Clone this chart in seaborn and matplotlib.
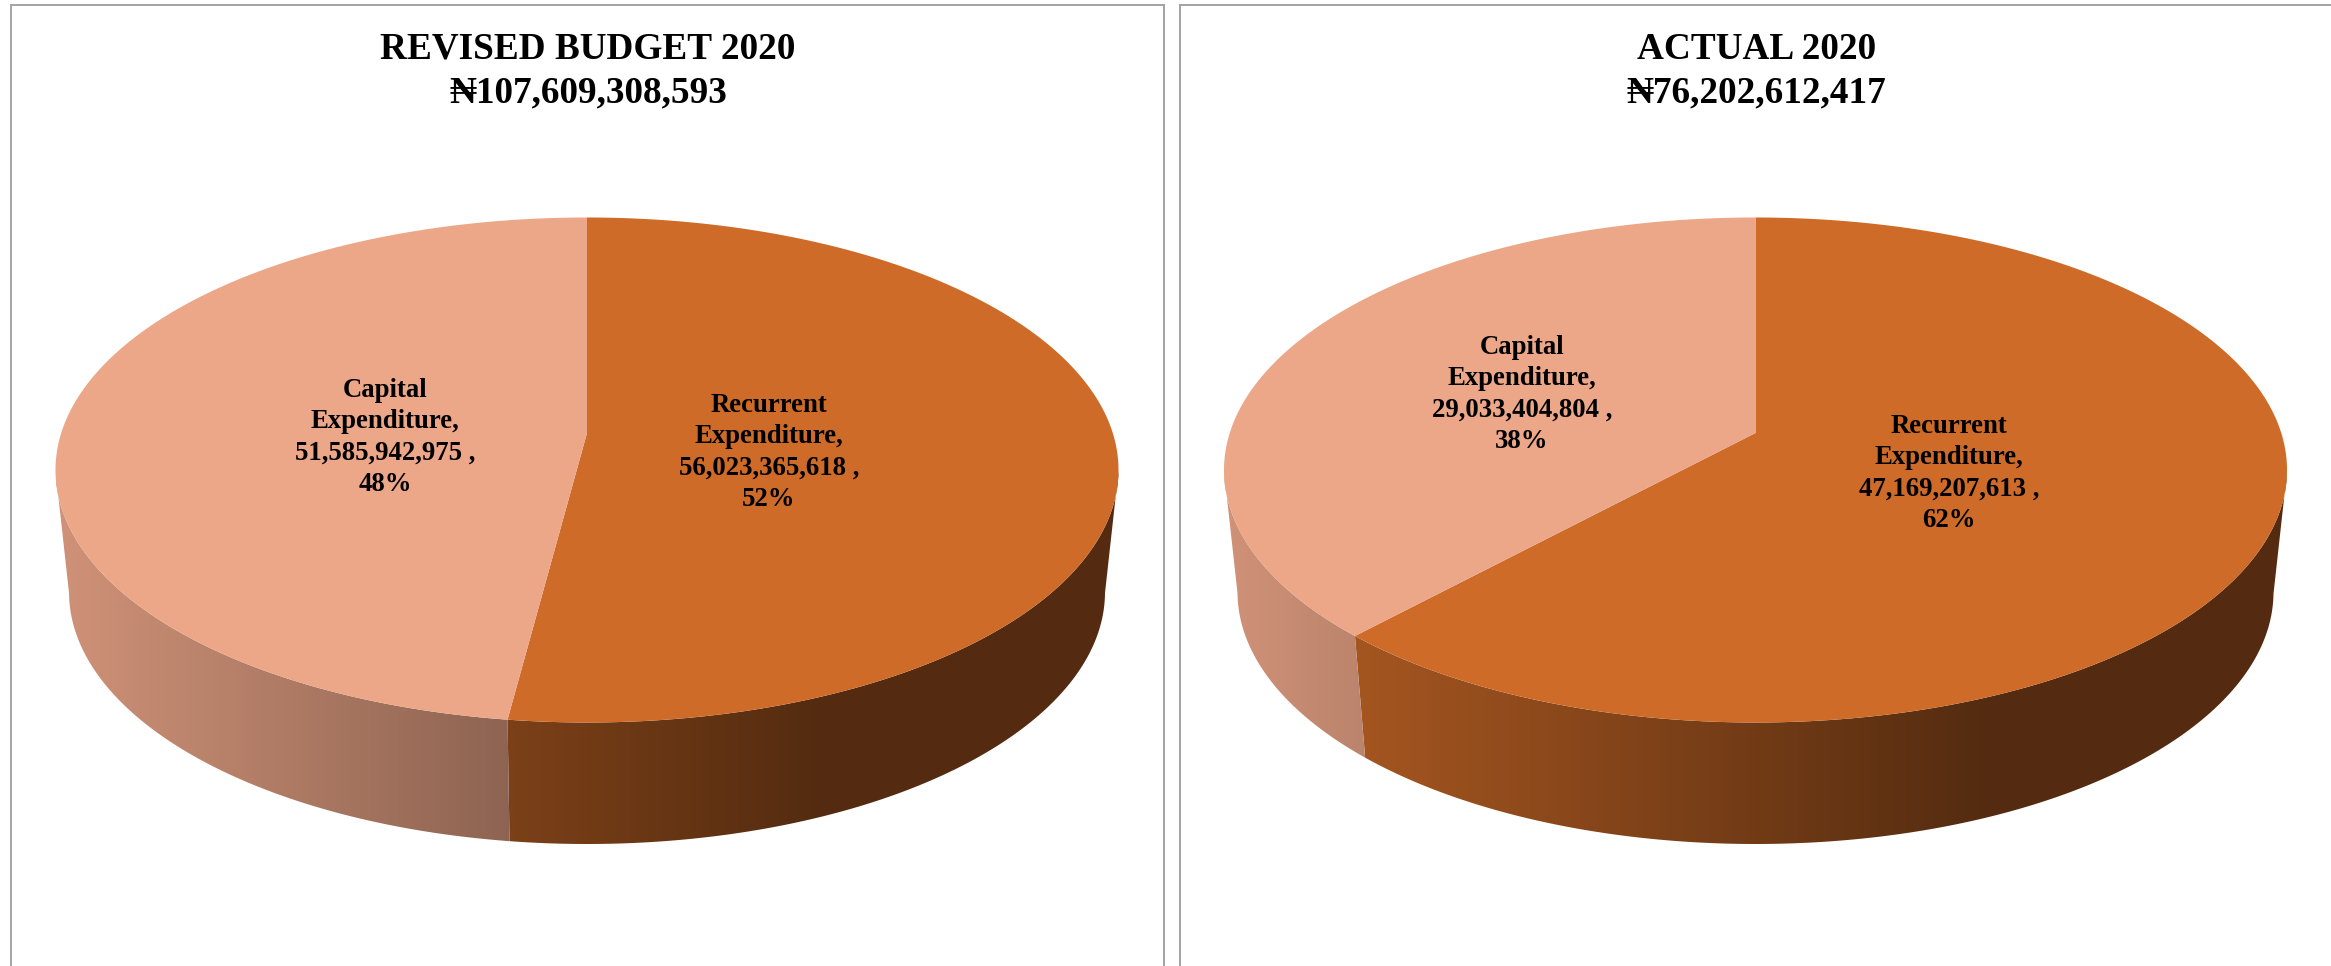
"""Two 3-D style pie charts of revised budget and actual expenditure, 2020."""

import numpy as np
import seaborn as sns
import matplotlib.pyplot as plt
from matplotlib.patches import Polygon

# --- Data -------------------------------------------------------------------
chart_titles = ["REVISED BUDGET 2020", "ACTUAL 2020"]
chart_totals = [107609308593, 76202612417]
category_names = ["Recurrent", "Capital"]
recurrent_values = [56023365618, 47169207613]
capital_values = [51585942975, 29033404804]

# --- Style and layout (in pixels of the 2331x966 picture) -------------------
WIDTH, HEIGHT = 2331, 966
PANEL_EDGES = [(11, 1164), (1180, 2345)]
PANEL_TOP = 5
PIE_CENTERS = [587, 1755.5]
TOP_RX, TOP_RY, TOP_CY = 531.5, 252.5, 470
BOTTOM_RX, BOTTOM_RY, BOTTOM_CY = 518, 252, 592
APEX_SHIFT = 0.1465  # perspective: where the pie centre lands on the top face
TITLE_Y = 71
LABEL_SPOTS = [[(769, 452.5), (385, 437.5)], [(1949, 473.5), (1522, 394.5)]]
BORDER = "#a3a3a3"
FONT = ["Liberation Serif", "DejaVu Serif"]

sns.set_theme(style="white")
plt.rcParams["font.family"] = FONT
palette = sns.color_palette(["#CE6B28", "#ECA688"])


def project(theta):
    """Map a clockwise angle on the round pie to the tilted top-face ellipse."""
    x, y = np.sin(theta), np.cos(theta)
    k = 1 + APEX_SHIFT * y
    return x * np.sqrt(1 - APEX_SHIFT**2) / k, (y + APEX_SHIFT) / k


def shade(x):
    """Darkening of the rim, which goes from left to right."""
    return np.clip(0.6 - 0.33 * (x + 0.147), 0.41, 1)


def draw_slice(ax, cx, start, stop, color):
    theta = np.linspace(start, stop, 400)
    x, y = project(theta)

    # rim first, only where the slice faces the viewer
    front = y <= 0
    if front.any():
        upper = np.column_stack([cx + TOP_RX * x[front], TOP_CY - TOP_RY * y[front]])
        lower = np.column_stack(
            [cx + BOTTOM_RX * x[front], BOTTOM_CY - BOTTOM_RY * y[front]]
        )
        rim = Polygon(np.vstack([upper, lower[::-1]]), closed=True, transform=ax.transData)
        ramp = np.linspace(-1, 1, 600)
        colors = np.array(color)[None, None, :] * shade(ramp)[None, :, None]
        img = ax.imshow(
            colors,
            extent=(cx - TOP_RX, cx + TOP_RX, HEIGHT, 0),
            aspect="auto",
            interpolation="bilinear",
            zorder=1,
        )
        img.set_clip_path(rim)

    # then the flat top face, apex at the shifted centre
    px = np.concatenate([[cx], cx + TOP_RX * x])
    py = np.concatenate([[TOP_CY - TOP_RY * APEX_SHIFT], TOP_CY - TOP_RY * y])
    ax.fill(px, py, color=color, lw=0, zorder=2)


def slice_label(name, value, share):
    return f"{name}\nExpenditure,\n{value:,} ,\n{share:.0%}"


def draw_panel(fig, i):
    left, right = PANEL_EDGES[i]
    ax = fig.add_axes(
        [left / WIDTH, 0, (right - left) / WIDTH, 1 - PANEL_TOP / HEIGHT]
    )
    ax.set_xlim(left, right)
    ax.set_ylim(HEIGHT, PANEL_TOP)
    ax.set_xticks([])
    ax.set_yticks([])

    cx = PIE_CENTERS[i]
    values = [recurrent_values[i], capital_values[i]]
    shares = [v / sum(values) for v in values]
    cut = shares[0] * 2 * np.pi
    draw_slice(ax, cx, 0, cut, palette[0])
    draw_slice(ax, cx, cut, 2 * np.pi, palette[1])
    ax.set_xlim(left, right)
    ax.set_ylim(HEIGHT, PANEL_TOP)

    ax.text(
        cx + 1,
        TITLE_Y,
        f"{chart_titles[i]}\n\u20a6{chart_totals[i]:,}",
        ha="center",
        va="center",
        fontsize=26.8,
        fontweight="bold",
        color="black",
        linespacing=1.31,
        zorder=4,
    )
    for name, value, share, (tx, ty) in zip(category_names, values, shares, LABEL_SPOTS[i]):
        ax.text(
            tx,
            ty,
            slice_label(name, value, share),
            ha="center",
            va="center",
            fontsize=19.3,
            fontweight="bold",
            color="black",
            linespacing=1.33,
            zorder=4,
        )

    sns.despine(ax=ax, top=False, left=False, right=i == 1, bottom=True)
    for side in ["top", "left", "right"]:
        ax.spines[side].set_color(BORDER)
        ax.spines[side].set_linewidth(1.4)


def main():
    fig = plt.figure(figsize=(WIDTH / 100, HEIGHT / 100), dpi=100, facecolor="white")
    for i in range(len(chart_titles)):
        draw_panel(fig, i)
    fig.savefig("out.png", dpi=100, facecolor="white")


if __name__ == "__main__":
    main()
